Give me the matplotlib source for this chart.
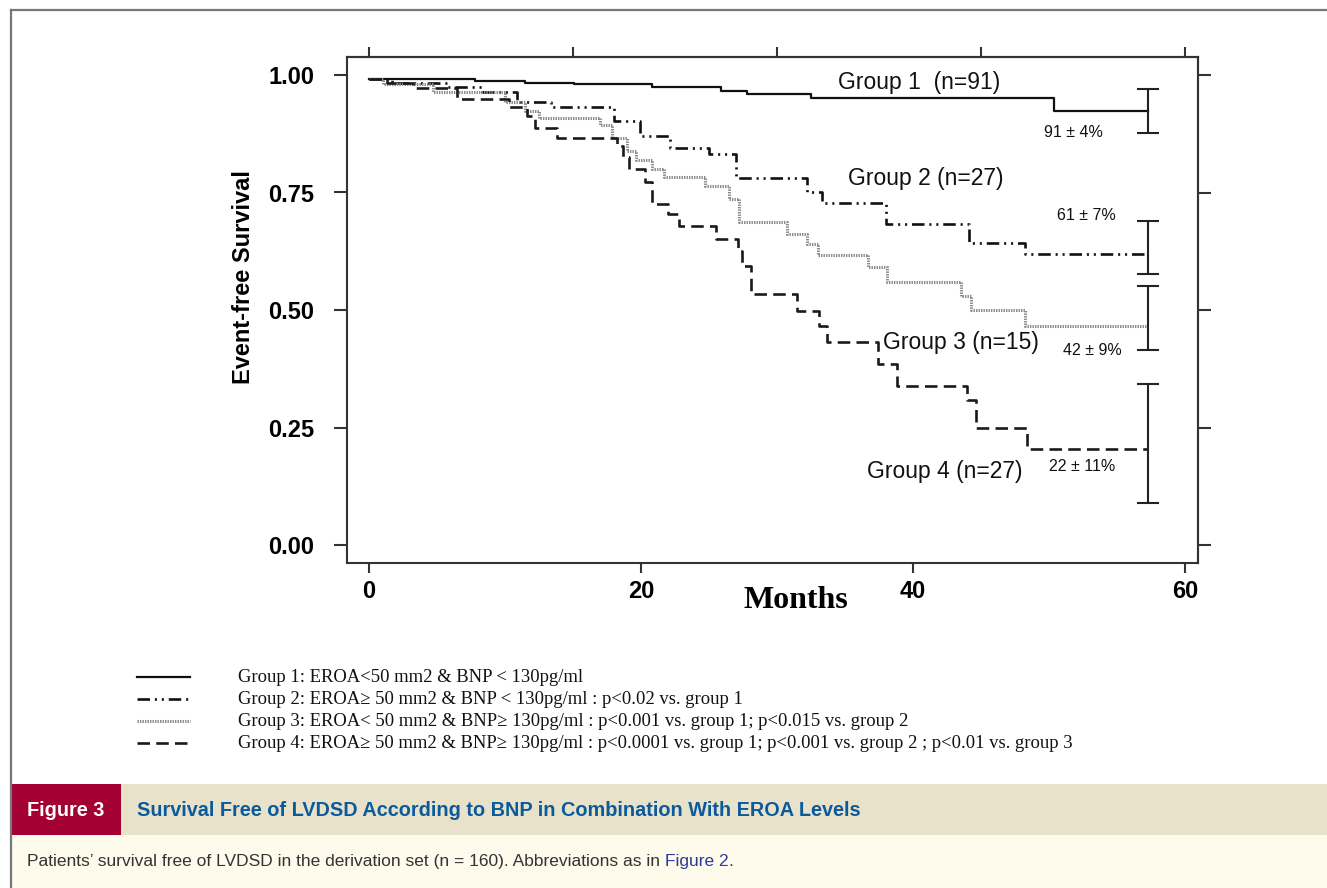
import matplotlib
matplotlib.use("Agg")
import matplotlib.pyplot as plt
from matplotlib.lines import Line2D
from matplotlib.patches import Rectangle

plt.rcParams['font.family'] = ['Liberation Sans', 'DejaVu Sans']
plt.rcParams['lines.scale_dashes'] = False

# ---------------- data ----------------
g1_t = [0, 7.8, 11.5, 15.1, 20.8, 25.9, 27.8, 32.5, 50.4, 57.3]
g1_s = [0.991, 0.988, 0.984, 0.981, 0.974, 0.967, 0.960, 0.950, 0.924, 0.924]

g2_t = [0, 1.7, 5.7, 8.3, 10.9, 13.4, 18.0, 19.9, 22.1, 25.0, 27.0, 32.2, 33.3,
        38.0, 44.1, 48.2, 57.3]
g2_s = [0.991, 0.983, 0.974, 0.964, 0.943, 0.932, 0.902, 0.870, 0.844, 0.832,
        0.780, 0.751, 0.727, 0.684, 0.642, 0.620, 0.620]

g3_t = [0, 1.0, 4.7, 10.0, 11.5, 12.5, 17.0, 17.9, 19.0, 19.6, 20.8, 21.7, 24.7,
        26.5, 27.2, 30.7, 32.2, 33.0, 36.7, 38.1, 43.5, 44.3, 48.2, 57.3]
g3_s = [0.991, 0.981, 0.964, 0.943, 0.923, 0.908, 0.893, 0.866, 0.838, 0.819,
        0.800, 0.783, 0.763, 0.736, 0.687, 0.661, 0.640, 0.618, 0.591, 0.559,
        0.529, 0.499, 0.467, 0.467]

g4_t = [0, 1.3, 3.2, 6.5, 10.3, 11.6, 12.2, 13.8, 18.2, 18.7, 19.1, 20.3, 20.8,
        22.0, 22.8, 25.5, 27.1, 27.4, 28.1, 31.5, 33.1, 33.7, 37.4, 38.8, 44.0,
        44.6, 48.4, 57.3]
g4_s = [0.991, 0.983, 0.972, 0.949, 0.932, 0.913, 0.887, 0.866, 0.849, 0.825,
        0.800, 0.772, 0.725, 0.704, 0.679, 0.651, 0.625, 0.593, 0.533, 0.497,
        0.465, 0.431, 0.386, 0.339, 0.309, 0.249, 0.205, 0.205]

err_time = 57.3
err_center = [0.924, 0.620, 0.467, 0.205]
err_low = [0.876, 0.576, 0.414, 0.090]
err_high = [0.970, 0.689, 0.552, 0.343]

group_labels = ["Group 1  (n=91)", "Group 2 (n=27)", "Group 3 (n=15)", "Group 4 (n=27)"]
pct_labels = ["91 \u00b1 4%", "61 \u00b1 7%", "42 \u00b1 9%", "22 \u00b1 11%"]

x_ticks = [0, 20, 40, 60]
x_ticks_top = [0, 15, 30, 45, 60]
y_ticks = [0.00, 0.25, 0.50, 0.75, 1.00]

legend_texts = [
    "Group 1: EROA<50 mm2 & BNP < 130pg/ml",
    "Group 2: EROA\u2265 50 mm2 & BNP < 130pg/ml : p<0.02 vs. group 1",
    "Group 3: EROA< 50 mm2 & BNP\u2265 130pg/ml : p<0.001 vs. group 1; p<0.015 vs. group 2",
    "Group 4: EROA\u2265 50 mm2 & BNP\u2265 130pg/ml : p<0.0001 vs. group 1; p<0.001 vs. group 2 ; p<0.01 vs. group 3",
]

fig_title = "Survival Free of LVDSD According to BNP in Combination With EROA Levels"
fig_label = "Figure 3"
caption = "Patients\u2019 survival free of LVDSD in the derivation set (n = 160). Abbreviations as in "
caption_link = "Figure 2"

# ---------------- styles ----------------
styles = [
    dict(color='#111111', lw=1.6, linestyle='-'),
    dict(color='#111111', lw=1.9, linestyle=(0, (9, 3.5, 1.5, 3.5, 1.5, 3.5))),
    dict(color='#8a8a8a', lw=2.2, linestyle=(0, (1.0, 0.8))),
    dict(color='#1a1a1a', lw=1.9, linestyle=(0, (9, 4.5))),
]

W, H = 1327, 888
fig = plt.figure(figsize=(W / 100, H / 100), dpi=100)
fig.patch.set_facecolor('white')

def fx(px):
    return px / W

def fy(py):
    return 1 - py / H

# outer frame lines
fig.add_artist(Line2D([fx(11), fx(11)], [fy(10), fy(888)], color='#777777', lw=1.6))
fig.add_artist(Line2D([fx(11), fx(1327)], [fy(10), fy(10)], color='#777777', lw=1.6))

# axes
ax_l, ax_r, ax_t, ax_b = 347, 1198, 57, 563
ax = fig.add_axes([fx(ax_l), fy(ax_b), (ax_r - ax_l) / W, (ax_b - ax_t) / H])
ax.set_facecolor('white')

series = [(g1_t, g1_s), (g2_t, g2_s), (g3_t, g3_s), (g4_t, g4_s)]
for (t, s), st in zip(series, styles):
    ax.step(t, s, where='post', **st)

for c, lo, hi in zip(err_center, err_low, err_high):
    ax.errorbar([err_time], [c], yerr=[[c - lo], [hi - c]], fmt='none',
                ecolor='#222222', elinewidth=1.5, capsize=8, capthick=1.5)

# x: 0 -> px 369, 13.6 px per month
x0_px, ppm = 369, 13.6
ax.set_xlim((ax_l - x0_px) / ppm, (ax_r - x0_px) / ppm)
# y: 1 -> px 75, 0 -> px 545
y0_px, ppu = 545, 470
ax.set_ylim((y0_px - ax_b) / ppu, (y0_px - ax_t) / ppu)

ax.set_xticks(x_ticks)
ax.set_xticklabels([str(v) for v in x_ticks])
ax.set_yticks(y_ticks)
ax.set_yticklabels([f"{v:.2f}" for v in y_ticks])
ax.tick_params(axis='y', direction='out', length=9.5, width=1.5, color='#333333',
               pad=14, labelsize=17)
ax.tick_params(axis='x', direction='out', length=7, width=1.5, color='#333333',
               pad=5, labelsize=17)
for lab in ax.get_xticklabels() + ax.get_yticklabels():
    lab.set_fontweight('bold')

for sp in ax.spines.values():
    sp.set_linewidth(1.5)
    sp.set_color('#333333')

secx = ax.secondary_xaxis('top')
secx.set_xticks(x_ticks_top)
secx.tick_params(direction='out', length=7, width=1.5, color='#333333', labeltop=False)
secx.spines['top'].set_linewidth(1.5)
secx.spines['top'].set_color('#333333')
secy = ax.secondary_yaxis('right')
secy.set_yticks(y_ticks)
secy.tick_params(direction='out', length=9, width=1.5, color='#333333', labelright=False)
secy.spines['right'].set_linewidth(1.5)
secy.spines['right'].set_color('#333333')

# group labels (data coordinates)
label_pos = [(34.5, 0.984), (35.2, 0.780), (37.8, 0.431), (36.6, 0.156)]
for txt, (tx, ty) in zip(group_labels, label_pos):
    ax.text(tx, ty, txt, fontsize=16.5, ha='left', va='center', color='#111111')

pct_pos = [(49.6, 0.878), (50.6, 0.701), (51.0, 0.414), (50.0, 0.168)]
for txt, (tx, ty) in zip(pct_labels, pct_pos):
    ax.text(tx, ty, txt, fontsize=11.5, ha='left', va='center', color='#111111')

# axis titles
fig.text(fx(243), fy(277), "Event-free Survival", rotation=90, fontsize=17,
         fontweight='bold', ha='center', va='center')
fig.text(fx(796), fy(600), "Months", fontsize=23, fontweight='bold',
         family=['Liberation Serif', 'DejaVu Serif'], ha='center', va='center')

# legend (manual, figure coordinates)
leg_y = [677, 699, 721, 743]
for (st, txt, yy) in zip(styles, legend_texts, leg_y):
    fig.add_artist(Line2D([fx(137), fx(190)], [fy(yy), fy(yy)], **st))
    fig.text(fx(238), fy(yy), txt, fontsize=13.45, ha='left', va='center',
             family=['Liberation Serif', 'DejaVu Serif'], color='#111111')

# caption bands
fig.add_artist(Rectangle((fx(11), fy(835)), 1 - fx(11), (835 - 784) / H,
                         transform=fig.transFigure, facecolor='#e9e2ca', edgecolor='none'))
fig.add_artist(Rectangle((fx(11), fy(835)), (121 - 11) / W, (835 - 784) / H,
                         transform=fig.transFigure, facecolor='#a50034', edgecolor='none'))
fig.add_artist(Rectangle((fx(12), 0), 1 - fx(12), (888 - 835) / H,
                         transform=fig.transFigure, facecolor='#fefbec', edgecolor='none'))
fig.text(fx(66), fy(810), fig_label, fontsize=14.3, fontweight='bold', color='white',
         ha='center', va='center')
fig.text(fx(137), fy(810), fig_title, fontsize=14.3, fontweight='bold', color='#0a5a9c',
         ha='left', va='center')
cap = fig.text(fx(27), fy(861), caption, fontsize=12.5, color='#333333',
               ha='left', va='center')
fig.canvas.draw()
bb = cap.get_window_extent(renderer=fig.canvas.get_renderer())
fig.text(bb.x1 / W, fy(861), caption_link, fontsize=12.5, color='#2a3a9a',
         ha='left', va='center')
bb2 = fig.texts[-1].get_window_extent(renderer=fig.canvas.get_renderer())
fig.text(bb2.x1 / W, fy(861), ".", fontsize=12.5, color='#333333', ha='left', va='center')

fig.savefig("out.png", dpi=100)
